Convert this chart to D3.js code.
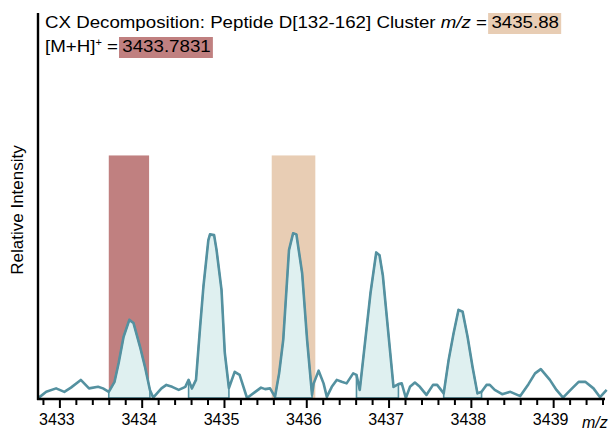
<!DOCTYPE html>
<html>
<head>
<meta charset="utf-8">
<script src="https://cdn.jsdelivr.net/npm/d3@7"></script>
<style>
    body { margin: 0; background: #fff; }
    svg { display: block; font-family: "Liberation Sans", Arial, sans-serif; }
</style>
</head>
<body>
<div id="chart"></div>
<script>
// spectrum trace
const mz = [
    3432.75, 3432.84, 3432.96, 3433.06, 3433.14, 3433.26, 3433.36, 3433.47, 3433.53, 3433.60,
    3433.67, 3433.72, 3433.78, 3433.85, 3433.90, 3433.98, 3434.04, 3434.10, 3434.14, 3434.24,
    3434.30, 3434.37, 3434.45, 3434.53, 3434.57, 3434.61, 3434.66, 3434.71, 3434.75, 3434.81,
    3434.83, 3434.88, 3434.91, 3434.97, 3435.01, 3435.06, 3435.13, 3435.19, 3435.28, 3435.38,
    3435.45, 3435.50, 3435.56, 3435.62, 3435.67, 3435.72, 3435.79, 3435.84, 3435.88, 3435.95,
    3436.01, 3436.07, 3436.09, 3436.15, 3436.21, 3436.25, 3436.31, 3436.37, 3436.43, 3436.49,
    3436.57, 3436.61, 3436.65, 3436.78, 3436.85, 3436.89, 3436.93, 3436.99, 3437.06, 3437.12,
    3437.16, 3437.21, 3437.26, 3437.32, 3437.38, 3437.46, 3437.54, 3437.59, 3437.67, 3437.73,
    3437.79, 3437.85, 3437.90, 3437.96, 3438.02, 3438.08, 3438.13, 3438.19, 3438.23, 3438.29,
    3438.38, 3438.48, 3438.60, 3438.70, 3438.78, 3438.85, 3438.96, 3439.04, 3439.12, 3439.23,
    3439.31, 3439.39, 3439.49, 3439.57, 3439.65
];
const intensity = [
    0.1, 1.6, 2.5, 1.6, 2.7, 4.7, 2.5, 2.9, 2.5, 1.6,
    4.2, 9.1, 15.9, 20.3, 19.5, 13.3, 8.1, 2.1, 0.1, 2.5,
    3.4, 2.9, 2.1, 2.9, 4.7, 2.5, 4.7, 18.5, 28.9, 41.0,
    42.5, 42.3, 38.4, 28.1, 11.7, 2.6, 6.8, 6.0, 0.0, 1.6,
    2.7, 2.3, 2.5, 0.3, 6.4, 15.1, 38.4, 42.8, 42.5, 32.4,
    15.1, 0.8, 3.8, 7.1, 3.8, 0.3, 2.9, 4.7, 4.2, 3.8,
    6.4, 6.0, 2.1, 27.2, 37.8, 37.1, 31.9, 18.5, 2.9, 3.6,
    3.8, 0.0, 2.9, 4.0, 2.9, 0.8, 3.4, 3.4, 1.2, 9.9,
    16.8, 22.9, 22.4, 15.9, 8.1, 1.2, 1.6, 3.4, 3.4, 2.1,
    1.0, 1.6, 0.5, 3.6, 6.4, 7.5, 4.7, 2.1, 0.1, 2.5,
    4.2, 4.2, 2.5, 0.2, 2.1
];

// shaded peak windows (m/z from, to)
const peakLo = [3433.59, 3434.56, 3435.61, 3436.60, 3437.66];
const peakHi = [3434.11, 3435.07, 3436.08, 3437.13, 3438.14];

// highlighted bands: monoisotopic and cluster
const bandLo = [3433.60, 3435.58];
const bandHi = [3434.09, 3436.11];
const bandTop = [63, 63];
const bandColor = ['#c08080', '#e8cdb4'];

const xTicks = [3433, 3434, 3435, 3436, 3437, 3438, 3439];
const clusterMz = '3435.88';
const monoMass = '3433.7831';

const width = 610, height = 432;
const lineColor = '#5491a0';

const svg = d3.select('#chart').append('svg')
    .attr('width', width)
    .attr('height', height);

const x = d3.scaleLinear().domain([3432.74, 3439.63]).range([38, 605]);
const y = d3.scaleLinear().domain([0, 100]).range([398, 13]);

const data = mz.map((m, i) => ({ m, v: intensity[i] }));

// bands
svg.selectAll('rect.band')
    .data(bandLo)
    .enter()
    .append('rect')
    .attr('class', 'band')
    .attr('x', (d, i) => x(d))
    .attr('width', (d, i) => x(bandHi[i]) - x(d))
    .attr('y', (d, i) => y(bandTop[i]))
    .attr('height', (d, i) => y(0) - y(bandTop[i]))
    .style('fill', (d, i) => bandColor[i]);

// filled peaks
const area = d3.area()
    .x(d => x(d.m))
    .y0(y(0))
    .y1(d => y(d.v));

svg.selectAll('path.peak')
    .data(peakLo.map((lo, i) => data.filter(d => d.m >= lo && d.m <= peakHi[i])))
    .enter()
    .append('path')
    .attr('class', 'peak')
    .attr('d', area)
    .style('fill', '#dff0f0')
    .style('stroke', lineColor)
    .style('stroke-width', 1.6);

// trace
const line = d3.line()
    .x(d => x(d.m))
    .y(d => y(d.v));

svg.append('path')
    .datum(data)
    .attr('d', line)
    .style('fill', 'none')
    .style('stroke', lineColor)
    .style('stroke-width', 2.6)
    .style('stroke-linejoin', 'round');

// axes
const minorTicks = d3.range(3432.8, 3439.65, 0.2).filter(t => Math.abs(t - Math.round(t)) > 0.01);

const xAxisG = svg.append('g').attr('transform', `translate(0,${y(0) + 1})`);

xAxisG.append('g')
    .call(d3.axisBottom(x).tickValues(minorTicks).tickSize(6).tickFormat(''))
    .call(g => g.select('.domain').remove())
    .selectAll('line')
    .style('stroke', '#000')
    .style('stroke-width', 2);

xAxisG.append('g')
    .call(d3.axisBottom(x).tickValues(xTicks).tickSize(9).tickPadding(6).tickFormat(d3.format('d')))
    .call(g => g.select('.domain').remove())
    .call(g => g.selectAll('line').style('stroke', '#000').style('stroke-width', 2))
    .call(g => g.selectAll('text')
        .attr('dx', -3)
        .style('font-size', '16px')
        .style('fill', '#000')
        .style('font-family', '"Liberation Sans", Arial, sans-serif'));

xAxisG.append('line')
    .attr('x1', 37).attr('x2', 605)
    .style('stroke', '#000')
    .style('stroke-width', 2.4);

svg.append('line')
    .attr('x1', 38).attr('x2', 38)
    .attr('y1', 13).attr('y2', y(0) + 2)
    .style('stroke', '#000')
    .style('stroke-width', 2.4);

svg.append('text')
    .attr('x', 582)
    .attr('y', 428)
    .style('font-size', '16px')
    .style('font-style', 'italic')
    .text('m/z');

svg.append('text')
    .attr('transform', 'translate(23,210) rotate(-90)')
    .attr('text-anchor', 'middle')
    .style('font-size', '17px')
    .text('Relative Intensity');

// title lines with highlighted values; glyphs in the source are a bit wide
const titleG = svg.append('g')
    .attr('transform', 'translate(45,0) scale(1.1,1)');

function titleLine(yBase, build, value, color) {
    const t = titleG.append('text')
        .attr('x', 0)
        .attr('y', yBase)
        .style('font-size', '17px');
    build(t);
    const w = t.node().getComputedTextLength();
    const v = titleG.append('text')
        .attr('x', w + 4)
        .attr('y', yBase)
        .style('font-size', '17px')
        .text(value);
    const vw = v.node().getComputedTextLength();
    titleG.insert('rect', () => v.node())
        .attr('x', w + 1)
        .attr('y', yBase - 15)
        .attr('width', vw + 5)
        .attr('height', 21)
        .style('fill', color);
}

titleLine(28, t => {
    t.append('tspan').text('CX Decomposition: Peptide D[132-162] Cluster ');
    t.append('tspan').style('font-style', 'italic').text('m/z');
    t.append('tspan').text(' = ');
}, clusterMz, bandColor[1]);

titleLine(52, t => {
    t.append('tspan').text('[M+H]');
    t.append('tspan').attr('dy', -6).style('font-size', '10px').text('+');
    t.append('tspan').attr('dy', 6).text(' = ');
}, monoMass, bandColor[0]);
</script>
</body>
</html>
